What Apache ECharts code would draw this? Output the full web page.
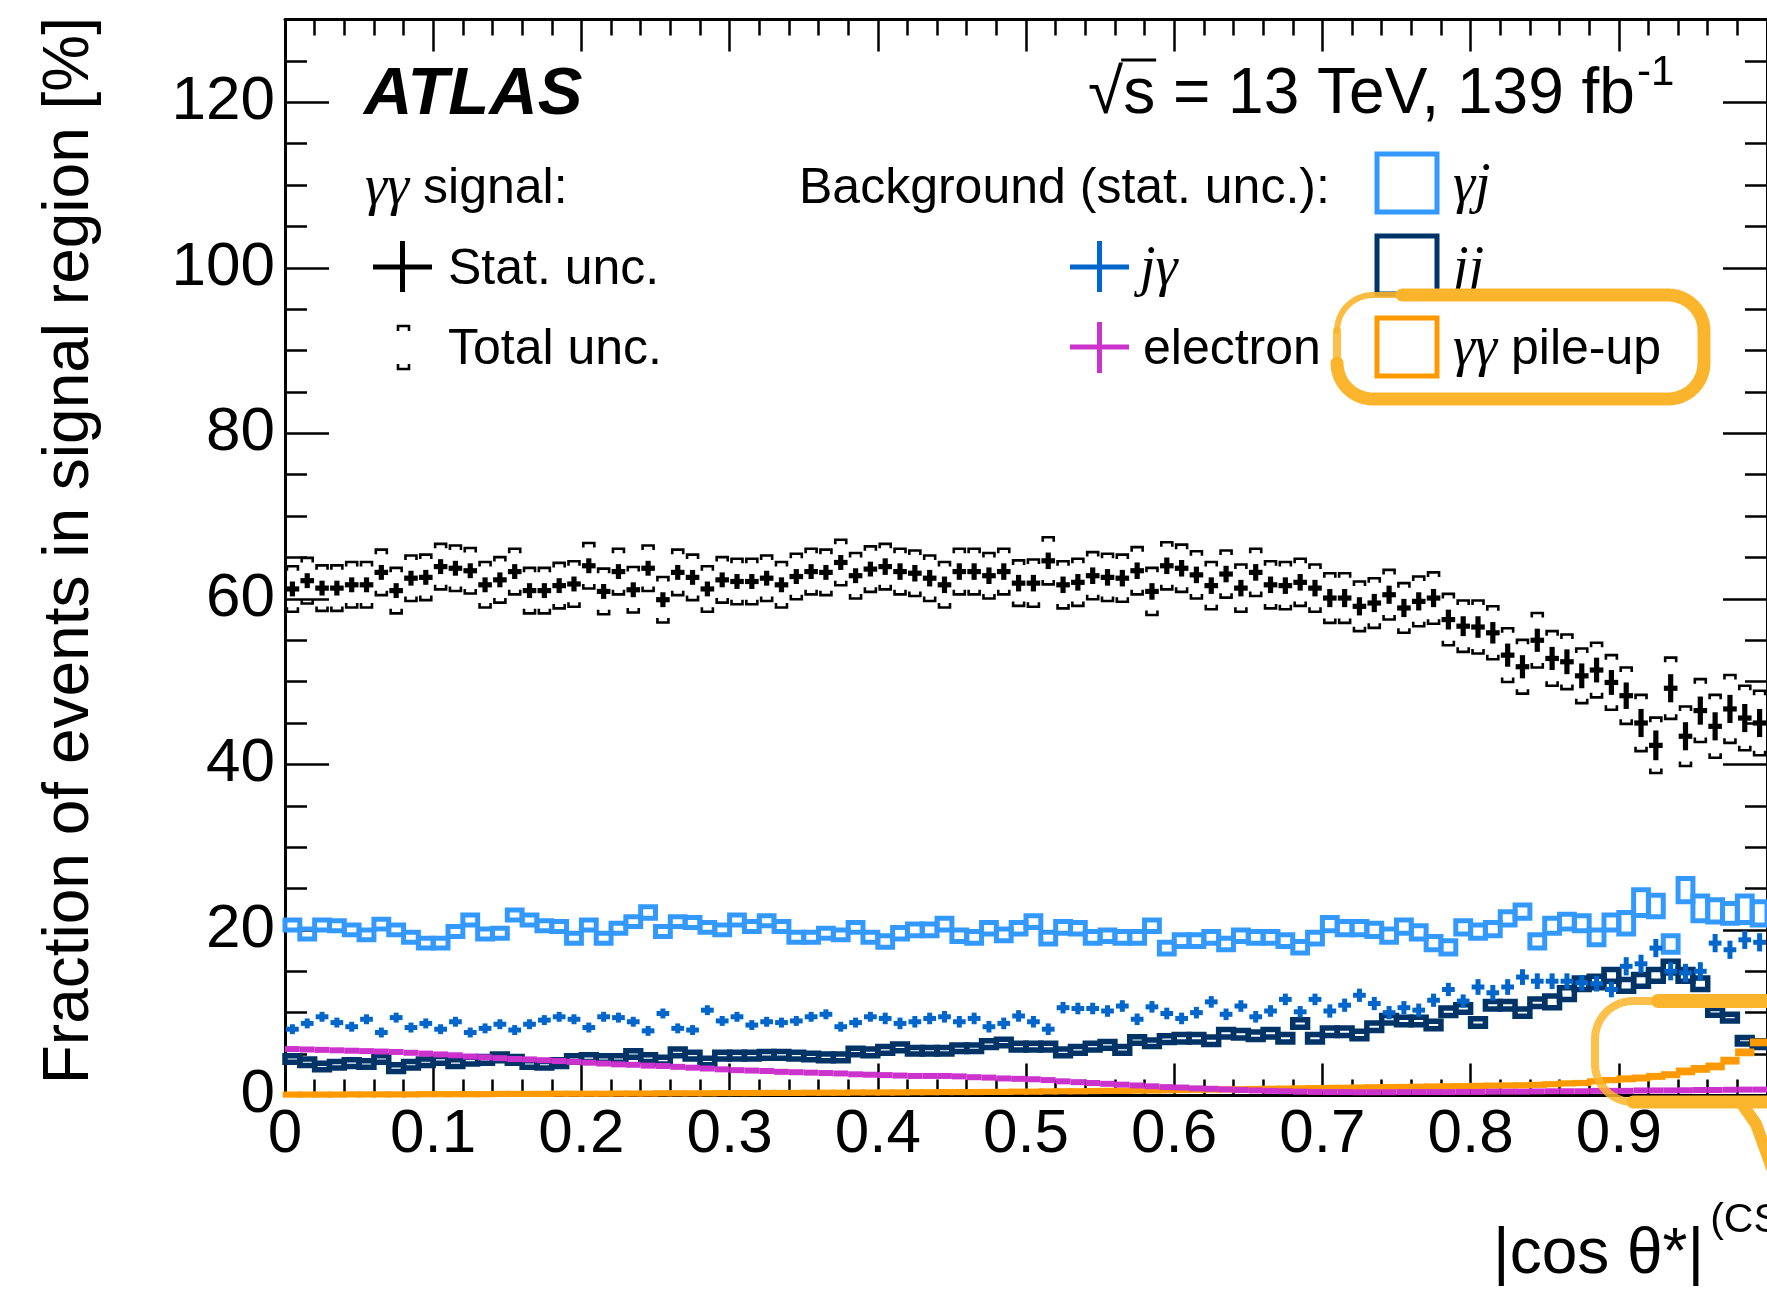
<!DOCTYPE html>
<html><head><meta charset="utf-8">
<script src="https://cdn.jsdelivr.net/npm/echarts@6/dist/echarts.min.js"></script>
<style>html,body{margin:0;padding:0;background:#fff}#c{width:1767px;height:1289px}</style>
</head><body><div id="c"></div><script>
// ---------------- data ----------------
const binWidth = 0.01;
const binCenters = Array.from({length: 100}, (_, i) => (2 * i + 1) / 200);

const signal = [61.2,62.2,61.3,61.3,61.7,61.7,63.2,61.0,62.5,62.6,
 63.9,63.7,63.4,61.7,62.3,63.3,61.0,61.0,61.6,61.8,
 64.0,60.9,63.3,61.1,63.7,59.9,63.2,62.6,61.2,62.3,
 62.1,62.1,62.5,61.7,62.7,63.3,63.2,64.4,62.8,63.6,
 63.9,63.3,63.1,62.5,61.7,63.3,63.3,62.8,63.3,61.9,
 61.9,64.6,61.7,62.0,62.8,62.6,62.5,63.4,60.9,64.0,
 63.7,62.9,61.6,63.0,61.3,63.2,61.7,61.6,62.0,61.3,
 60.1,60.1,59.1,59.5,60.5,58.9,59.7,60.1,57.5,56.7,
 56.6,55.9,53.2,51.8,55.0,52.8,52.4,50.7,51.4,49.9,
 48.3,45.0,42.3,49.2,43.4,46.5,44.6,46.7,45.6,45.0];
const signalStat = [0.9,0.9,0.9,0.9,0.9,0.9,0.9,0.9,0.9,0.9,
 0.9,0.9,0.9,0.9,0.9,0.9,0.9,0.9,0.9,0.9,
 0.9,0.9,0.9,0.9,0.9,0.9,0.9,0.9,0.9,0.9,
 0.9,0.9,0.9,0.9,0.9,0.9,0.9,0.9,0.9,0.9,
 1.0,1.0,1.0,1.0,1.0,1.0,1.0,1.0,1.0,1.0,
 1.0,1.0,1.0,1.0,1.0,1.0,1.0,1.0,1.0,1.0,
 1.0,1.0,1.0,1.0,1.0,1.0,1.0,1.0,1.0,1.0,
 1.1,1.1,1.1,1.1,1.1,1.1,1.1,1.1,1.2,1.2,
 1.3,1.3,1.4,1.4,1.4,1.4,1.5,1.5,1.5,1.5,
 1.6,1.7,1.8,1.7,1.7,1.7,1.7,1.7,1.7,1.7];
const signalTotal = [2.75,2.75,2.75,2.75,2.75,2.75,2.75,2.75,2.75,2.75,
 2.75,2.75,2.75,2.75,2.75,2.75,2.75,2.75,2.75,2.75,
 2.75,2.75,2.75,2.75,2.75,2.75,2.75,2.75,2.75,2.75,
 2.75,2.75,2.75,2.75,2.75,2.75,2.75,2.75,2.75,2.75,
 2.75,2.75,2.75,2.75,2.75,2.75,2.75,2.75,2.75,2.75,
 2.85,2.85,2.85,2.85,2.85,2.85,2.85,2.85,2.85,2.85,
 2.85,2.85,2.85,2.85,2.85,2.85,2.85,2.85,2.85,2.85,
 3.0,3.0,3.0,3.0,3.0,3.0,3.0,3.1,3.1,3.1,
 3.2,3.2,3.25,3.25,3.3,3.3,3.3,3.3,3.3,3.3,
 3.4,3.4,3.35,3.7,3.6,3.8,3.8,4.1,3.9,3.9];

const gjValues = [20.6,19.5,20.6,20.5,20.0,19.4,20.7,20.0,19.1,18.4,
 18.4,19.8,21.2,19.5,19.6,21.8,21.2,20.5,20.4,19.0,
 20.6,19.0,20.2,21.0,22.1,19.8,21.0,20.9,20.3,20.0,
 21.2,20.4,21.1,20.4,19.1,19.1,19.6,19.4,20.3,19.1,
 18.6,19.6,20.0,20.0,20.7,19.3,19.1,20.2,19.4,20.2,
 21.0,19.0,20.3,20.2,19.1,19.3,19.1,19.1,20.5,17.8,
 18.7,18.7,19.1,18.3,19.3,19.1,19.1,18.7,17.9,19.0,
 20.7,20.2,20.2,20.0,19.3,20.4,19.7,18.4,17.9,20.3,
 19.8,20.1,21.4,22.2,18.6,20.5,21.0,20.8,19.1,20.9,
 20.8,23.3,22.9,18.3,24.8,22.6,22.3,22.0,22.5,22.0];
const gjErr = [0.6,0.6,0.6,0.6,0.6,0.6,0.6,0.6,0.6,0.6,
 0.6,0.6,0.6,0.6,0.6,0.6,0.6,0.6,0.6,0.6,
 0.6,0.6,0.6,0.6,0.7,0.6,0.6,0.6,0.6,0.6,
 0.6,0.6,0.6,0.6,0.6,0.6,0.6,0.6,0.6,0.6,
 0.7,0.7,0.7,0.7,0.7,0.7,0.7,0.7,0.7,0.7,
 0.7,0.7,0.7,0.7,0.7,0.7,0.7,0.7,0.7,0.7,
 0.7,0.7,0.7,0.7,0.7,0.7,0.7,0.7,0.7,0.7,
 0.8,0.8,0.8,0.8,0.8,0.8,0.8,0.8,0.8,0.8,
 0.8,0.8,0.8,0.8,0.8,0.9,0.9,0.9,0.9,0.9,
 1.3,1.55,1.3,1.0,1.4,1.5,1.35,1.2,1.6,1.4];

const jjValues = [4.4,4.0,3.5,3.7,3.9,3.8,4.4,3.3,3.7,4.0,
 4.3,3.9,4.2,4.3,4.6,4.3,3.8,3.7,3.9,4.4,
 4.5,4.4,4.4,5.0,4.5,4.2,5.2,4.8,4.1,4.8,
 4.8,4.8,4.9,4.9,4.8,4.7,4.6,4.6,5.3,5.2,
 5.5,5.8,5.4,5.4,5.4,5.7,5.7,6.2,6.4,5.9,
 5.9,5.9,5.2,5.5,5.9,6.1,5.5,6.7,6.3,6.8,
 6.9,6.9,6.6,7.5,7.4,7.2,7.5,6.9,8.7,6.9,
 7.7,7.7,7.3,8.3,9.2,9.0,9.0,8.5,10.1,10.5,
 8.8,10.9,10.9,10.0,11.2,11.3,12.3,13.5,13.7,14.5,
 13.3,13.9,14.5,15.5,14.5,13.5,10.1,9.4,6.6,6.2];
const jjErr = [0.4,0.4,0.4,0.4,0.4,0.4,0.4,0.4,0.4,0.4,
 0.4,0.4,0.4,0.4,0.4,0.4,0.4,0.4,0.4,0.4,
 0.4,0.4,0.4,0.4,0.4,0.4,0.4,0.4,0.4,0.4,
 0.4,0.4,0.4,0.4,0.4,0.4,0.4,0.4,0.4,0.4,
 0.4,0.4,0.4,0.4,0.4,0.4,0.4,0.4,0.4,0.4,
 0.4,0.4,0.4,0.4,0.4,0.4,0.4,0.4,0.4,0.4,
 0.45,0.45,0.45,0.45,0.45,0.45,0.45,0.45,0.45,0.45,
 0.45,0.45,0.45,0.45,0.45,0.45,0.45,0.45,0.45,0.45,
 0.45,0.45,0.45,0.45,0.45,0.7,0.7,0.7,0.7,0.7,
 0.7,0.7,0.7,0.7,0.7,0.7,0.4,0.4,0.4,0.4];

const jgValues = [8.0,8.7,9.5,8.8,8.3,9.2,7.6,9.4,8.2,8.7,
 8.0,8.9,7.6,8.1,8.6,7.9,8.6,9.1,9.5,9.2,
 8.2,9.5,9.4,8.9,7.8,9.9,8.1,7.9,10.3,9.0,
 9.5,8.5,8.9,8.8,9.0,9.5,9.8,8.3,8.8,9.5,
 9.3,8.7,8.9,9.3,9.5,8.9,9.3,8.3,8.7,9.6,
 8.9,8.0,10.6,10.5,10.5,10.2,10.8,9.2,10.7,9.9,
 9.3,10.0,11.3,9.8,10.8,9.5,10.2,11.6,10.1,11.6,
 10.2,10.9,12.1,11.1,10.0,10.6,10.3,11.5,12.8,11.4,
 13.1,12.4,13.1,14.3,13.8,13.8,13.8,13.6,13.5,12.8,
 15.6,15.9,17.8,15.0,14.8,15.0,18.4,17.6,18.8,18.5];
const jgErr = [0.6,0.6,0.6,0.6,0.6,0.6,0.6,0.6,0.6,0.6,
 0.6,0.6,0.6,0.6,0.6,0.6,0.6,0.6,0.6,0.6,
 0.6,0.6,0.6,0.6,0.6,0.6,0.6,0.6,0.6,0.6,
 0.6,0.6,0.6,0.6,0.6,0.6,0.6,0.6,0.6,0.6,
 0.7,0.7,0.7,0.7,0.7,0.7,0.7,0.7,0.7,0.7,
 0.7,0.7,0.7,0.7,0.7,0.7,0.7,0.7,0.7,0.7,
 0.7,0.7,0.7,0.7,0.7,0.7,0.7,0.7,0.7,0.7,
 0.8,0.8,0.8,0.8,0.8,0.8,0.8,0.8,0.8,0.8,
 0.95,0.95,0.95,0.95,0.95,0.95,0.95,0.95,0.95,0.95,
 1.1,1.1,1.1,1.1,1.1,1.1,1.1,1.1,1.1,1.1];

const electronValues = [5.6,5.55,5.5,5.45,5.4,5.35,5.3,5.25,5.15,5.05,
 4.95,4.85,4.7,4.6,4.5,4.4,4.35,4.25,4.15,4.05,
 3.95,3.85,3.75,3.7,3.6,3.55,3.45,3.35,3.25,3.15,
 3.05,3.0,2.95,2.85,2.8,2.75,2.7,2.65,2.55,2.5,
 2.45,2.4,2.35,2.35,2.35,2.3,2.2,2.15,2.05,2.0,
 1.95,1.85,1.7,1.6,1.5,1.4,1.3,1.2,1.1,1.0,
 0.95,0.85,0.8,0.72,0.65,0.6,0.55,0.5,0.45,0.42,
 0.4,0.4,0.38,0.38,0.38,0.4,0.4,0.4,0.4,0.42,
 0.42,0.45,0.45,0.45,0.48,0.5,0.5,0.5,0.55,0.55,
 0.55,0.6,0.6,0.6,0.62,0.65,0.65,0.68,0.7,0.7];
const electronErr = [0.08,0.08,0.08,0.08,0.08,0.08,0.08,0.08,0.08,0.08,
 0.08,0.08,0.08,0.08,0.08,0.08,0.08,0.08,0.08,0.08,
 0.08,0.08,0.08,0.08,0.08,0.08,0.08,0.08,0.08,0.08,
 0.08,0.08,0.08,0.08,0.08,0.08,0.08,0.08,0.08,0.08,
 0.08,0.08,0.08,0.08,0.08,0.08,0.08,0.08,0.08,0.08,
 0.08,0.08,0.08,0.08,0.08,0.08,0.08,0.08,0.08,0.08,
 0.08,0.08,0.08,0.08,0.08,0.08,0.08,0.08,0.08,0.08,
 0.08,0.08,0.08,0.08,0.08,0.08,0.08,0.08,0.08,0.08,
 0.08,0.08,0.08,0.08,0.08,0.08,0.08,0.08,0.08,0.08,
 0.1,0.1,0.1,0.1,0.1,0.1,0.1,0.1,0.1,0.1];

const pileupValues = [0.1,0.1,0.1,0.1,0.12,0.12,0.12,0.12,0.12,0.15,
 0.15,0.15,0.15,0.15,0.18,0.18,0.18,0.18,0.2,0.2,
 0.2,0.2,0.22,0.22,0.22,0.25,0.25,0.25,0.25,0.28,
 0.28,0.28,0.3,0.3,0.3,0.32,0.32,0.32,0.35,0.35,
 0.35,0.35,0.38,0.38,0.4,0.4,0.4,0.42,0.42,0.45,
 0.45,0.48,0.5,0.5,0.52,0.55,0.55,0.58,0.6,0.62,
 0.65,0.68,0.7,0.72,0.75,0.78,0.8,0.82,0.85,0.88,
 0.9,0.92,0.95,0.98,1.0,1.02,1.05,1.08,1.1,1.12,
 1.15,1.18,1.2,1.22,1.28,1.35,1.45,1.5,1.7,1.85,
 2.0,2.1,2.3,2.5,2.9,3.2,3.5,4.2,5.2,6.4];
const pileupErr = [0.1,0.1,0.1,0.1,0.1,0.1,0.1,0.1,0.1,0.1,
 0.1,0.1,0.1,0.1,0.1,0.1,0.1,0.1,0.1,0.1,
 0.1,0.1,0.1,0.1,0.1,0.1,0.1,0.1,0.1,0.1,
 0.1,0.1,0.1,0.1,0.1,0.1,0.1,0.1,0.1,0.1,
 0.1,0.1,0.1,0.1,0.1,0.1,0.1,0.1,0.1,0.1,
 0.1,0.1,0.1,0.1,0.1,0.1,0.1,0.1,0.1,0.1,
 0.1,0.1,0.1,0.1,0.1,0.1,0.1,0.1,0.1,0.1,
 0.1,0.1,0.1,0.1,0.1,0.1,0.1,0.1,0.1,0.1,
 0.1,0.1,0.1,0.1,0.1,0.1,0.1,0.1,0.1,0.1,
 0.15,0.15,0.15,0.15,0.2,0.2,0.2,0.2,0.2,0.2];

const xTickLabels = ['0','0.1','0.2','0.3','0.4','0.5','0.6','0.7','0.8','0.9','1'];
const yTickLabels = ['0','20','40','60','80','100','120'];

// ---------------- style ----------------
const FONT = '"Liberation Sans", Arial, Helvetica, sans-serif';
const SERIF = '"Liberation Serif", "Times New Roman", serif';
const C_GJ = '#3399FF', C_JJ = '#003366', C_JG = '#0066CC', C_EL = '#CC33CC', C_PU = '#FF9900';
const C_ANN = '#FBB52C';
const BASE = 0.29; // baseline offset of a middle-aligned line, in em

const mctx = document.createElement('canvas').getContext('2d');
function tw(text, size, family, weight, style) {
  mctx.font = (style || 'normal') + ' ' + (weight || 'normal') + ' ' + size + 'px ' + family;
  return mctx.measureText(text).width;
}

function crossItem(color, lw, hwFrac) {
  return function (params, api) {
    const x = api.value(0), y = api.value(1), e = api.value(2);
    const hw = binWidth * hwFrac;
    const a = api.coord([x - hw, y]), b = api.coord([x + hw, y]);
    const t = api.coord([x, y + e]), d = api.coord([x, y - e]);
    return {type: 'group', children: [
      {type: 'line', shape: {x1: a[0], y1: a[1], x2: b[0], y2: b[1]}, style: {stroke: color, lineWidth: lw}},
      {type: 'line', shape: {x1: t[0], y1: t[1], x2: d[0], y2: d[1]}, style: {stroke: color, lineWidth: lw}}
    ]};
  };
}
function boxItem(color, lw) {
  return function (params, api) {
    const x = api.value(0), y = api.value(1), e = api.value(2);
    const p0 = api.coord([x - binWidth / 2, y + e]);
    const p1 = api.coord([x + binWidth / 2, y - e]);
    return {type: 'rect', shape: {x: p0[0], y: p0[1], width: p1[0] - p0[0], height: p1[1] - p0[1]},
      style: {stroke: color, lineWidth: lw, fill: 'none'}};
  };
}
function signalItem(params, api) {
  const x = api.value(0), y = api.value(1), s = api.value(2), t = api.value(3);
  const hw = binWidth * 0.46;
  const a = api.coord([x - hw, y]), b = api.coord([x + hw, y]);
  const pt = api.coord([x, y + s]), pb = api.coord([x, y - s]);
  const pu = api.coord([x, y + t]), pd = api.coord([x, y - t]);
  const bw = 5.5, leg = 4.5;
  const st = {stroke: '#000', lineWidth: 5.2};
  const sb = {stroke: '#000', lineWidth: 2.6, fill: 'none'};
  return {type: 'group', children: [
    {type: 'line', shape: {x1: a[0], y1: a[1], x2: b[0], y2: b[1]}, style: st},
    {type: 'line', shape: {x1: pt[0], y1: pt[1], x2: pb[0], y2: pb[1]}, style: st},
    {type: 'polyline', shape: {points: [[pu[0] - bw, pu[1] + leg], [pu[0] - bw, pu[1]], [pu[0] + bw, pu[1]], [pu[0] + bw, pu[1] + leg]]}, style: sb},
    {type: 'polyline', shape: {points: [[pd[0] - bw, pd[1] - leg], [pd[0] - bw, pd[1]], [pd[0] + bw, pd[1]], [pd[0] + bw, pd[1] - leg]]}, style: sb}
  ]};
}

function triples(vals, errs) { return binCenters.map((x, i) => [x, vals[i], errs[i]]); }

const axisLineStyle = {color: '#000', width: 3};
const tickStyle = {color: '#000', width: 2.5};

function yAxisDef(pos, major) {
  return {
    type: 'value', min: 0, max: 130, interval: major ? 20 : 5, position: pos,
    axisLine: {show: major, onZero: false, lineStyle: axisLineStyle},
    axisTick: {show: true, inside: true, length: major ? 44 : 22, lineStyle: tickStyle},
    minorTick: {show: false}, splitLine: {show: false},
    axisLabel: {show: major && pos === 'left', margin: 10, fontSize: 62, fontFamily: FONT, color: '#000',
      showMaxLabel: false, formatter: v => (v % 20 === 0 && yTickLabels[v / 20] !== undefined ? yTickLabels[v / 20] : '')}
  };
}
function xAxisDef(pos) {
  return {
    type: 'value', min: 0, max: 1, interval: 0.1, position: pos,
    axisLine: {show: true, onZero: false, lineStyle: axisLineStyle},
    axisTick: {show: true, inside: true, length: 32, lineStyle: tickStyle},
    minorTick: {show: true, splitNumber: 5, length: 16, lineStyle: tickStyle},
    splitLine: {show: false}, minorSplitLine: {show: false},
    axisLabel: {show: pos === 'bottom', margin: 9, fontSize: 62, fontFamily: FONT, color: '#000',
      showMaxLabel: false, formatter: v => xTickLabels[Math.round(v * 10)]}
  };
}

// ---------------- texts / legend (graphic) ----------------
const G = [];
function txt(x, y, text, size, opts) {
  opts = opts || {};
  G.push({type: 'text', x: x, y: y, z: 100, rotation: opts.rotation || 0,
    style: Object.assign({text: text, fontSize: size, fontFamily: FONT, fill: '#000', align: 'left', verticalAlign: 'middle'}, opts.style || {})});
}
const RICH_I = {i: {fontFamily: SERIF, fontStyle: 'italic', fontSize: 52}, g: {fontFamily: SERIF, fontStyle: 'italic', fontSize: 56}};

// ATLAS
txt(364, 115 - BASE * 67, 'ATLAS', 67, {style: {fontWeight: 'bold', fontStyle: 'italic'}});
// sqrt(s) line
const sx = 1088;
const mainLumi = '\u221As = 13 TeV, 139 fb';
txt(sx, 114 - BASE * 64, mainLumi, 64);
const wRad = tw('\u221A', 64, FONT), wS = tw('s', 64, FONT), wLumi = tw(mainLumi, 64, FONT);
G.push({type: 'line', z: 100, shape: {x1: sx + wRad - 2, y1: 60, x2: sx + wRad + wS + 1, y2: 60}, style: {stroke: '#000', lineWidth: 3}});
txt(sx + wLumi + 2, 86 - BASE * 42, '-1', 42);

// legend headers
txt(365, 204 - BASE * 50, '{g|\u03B3\u03B3} signal:', 50, {style: {rich: RICH_I}});
txt(799, 204 - BASE * 50, 'Background (stat. unc.):', 50);

// Stat unc
G.push({type: 'line', z: 100, shape: {x1: 373, y1: 267, x2: 432, y2: 267}, style: {stroke: '#000', lineWidth: 5}});
G.push({type: 'line', z: 100, shape: {x1: 402.5, y1: 241, x2: 402.5, y2: 292}, style: {stroke: '#000', lineWidth: 5}});
txt(448, 270, 'Stat. unc.', 50);
// Total unc
G.push({type: 'polyline', z: 100, shape: {points: [[398, 331], [398, 326], [409, 326], [409, 331]]}, style: {stroke: '#000', lineWidth: 2.6, fill: 'none'}});
G.push({type: 'polyline', z: 100, shape: {points: [[398, 364], [398, 369], [409, 369], [409, 364]]}, style: {stroke: '#000', lineWidth: 2.6, fill: 'none'}});
txt(448, 350, 'Total unc.', 50);
// j gamma
G.push({type: 'line', z: 100, shape: {x1: 1070, y1: 267, x2: 1129, y2: 267}, style: {stroke: C_JG, lineWidth: 5}});
G.push({type: 'line', z: 100, shape: {x1: 1099.5, y1: 241, x2: 1099.5, y2: 292}, style: {stroke: C_JG, lineWidth: 5}});
txt(1140, 270, '{g|j\u03B3}', 50, {style: {rich: RICH_I}});
// electron
G.push({type: 'line', z: 100, shape: {x1: 1070, y1: 347, x2: 1129, y2: 347}, style: {stroke: C_EL, lineWidth: 5}});
G.push({type: 'line', z: 100, shape: {x1: 1099.5, y1: 322, x2: 1099.5, y2: 373}, style: {stroke: C_EL, lineWidth: 5}});
txt(1143, 350, 'electron', 50);
// boxes
G.push({type: 'rect', z: 100, shape: {x: 1377, y: 154, width: 60, height: 58}, style: {stroke: C_GJ, lineWidth: 5, fill: 'none'}});
txt(1453, 187, '{g|\u03B3j}', 50, {style: {rich: RICH_I}});
G.push({type: 'rect', z: 100, shape: {x: 1377, y: 236, width: 60, height: 58}, style: {stroke: C_JJ, lineWidth: 5, fill: 'none'}});
txt(1453, 270, '{g|jj}', 50, {style: {rich: RICH_I}});
G.push({type: 'rect', z: 100, shape: {x: 1377, y: 318, width: 60, height: 58}, style: {stroke: C_PU, lineWidth: 5, fill: 'none'}});
txt(1453, 350, '{g|\u03B3\u03B3} pile-up', 50, {style: {rich: RICH_I}});

// axis titles
txt(70, 17, 'Fraction of events in signal region [%]', 64, {rotation: Math.PI / 2, style: {align: 'right'}});
const xTitle = '|cos \u03B8*|';
txt(1493, 1274 - BASE * 64, xTitle, 64);
txt(1493 + tw(xTitle, 64, FONT) + 6, 1233 - BASE * 41, '(CS)', 41);

// ---------------- hand-drawn highlight annotations ----------------
function arcPts(cx, cy, r, a0, a1, n) {
  const out = [];
  for (let k = 0; k <= n; k++) {
    const a = (a0 + (a1 - a0) * k / n) * Math.PI / 180;
    out.push([cx + r * Math.cos(a), cy + r * Math.sin(a)]);
  }
  return out;
}
function annot(points, lw, opacity) {
  G.push({type: 'polyline', z: 200, shape: {points: points},
    style: {stroke: C_ANN, lineWidth: lw, fill: 'none', lineCap: 'round', lineJoin: 'round', opacity: opacity || 1}});
}
// around the "pile-up" legend entry
(function () {
  const L = 1337, R = 1704, T = 295, B = 399, r = 36;
  annot([[1402, T]].concat(arcPts(R - r, T + r, r, -90, 0, 12), arcPts(R - r, B - r, r, 0, 90, 12),
    arcPts(L + r, B - r, r, 90, 180, 12)), 13);
  annot(arcPts(L + r, T + r, r, 180, 270, 12).concat([[1402, T]]), 6, 0.9);
  annot([[L, B - r], [L, T + r]], 8, 0.85);
})();
// around the high-|cos| pile-up rise
(function () {
  const L = 1595, T = 1001, B = 1102, r = 38;
  annot([[1658, T], [1800, T]], 14);
  annot([[1800, B], [L + r, B]], 13);
  annot(arcPts(L + r, B - r, r, 90, 180, 12).concat(arcPts(L + r, T + r, r, 180, 270, 12), [[1658, T]]), 8, 0.85);
  annot([[1742, 1104], [1756, 1124], [1772, 1168]], 12);
})();

// ---------------- chart ----------------
const chart = echarts.init(document.getElementById('c'), null, {renderer: 'canvas', width: 1767, height: 1289});
chart.setOption({
  animation: false,
  backgroundColor: '#ffffff',
  grid: {left: 285, top: 19.6, width: 1495, height: 1075.8, containLabel: false},
  xAxis: [xAxisDef('bottom'), xAxisDef('top')],
  yAxis: [yAxisDef('left', true), yAxisDef('right', true), yAxisDef('left', false), yAxisDef('right', false)],
  series: [
    {type: 'custom', name: 'gj', renderItem: boxItem(C_GJ, 5), data: triples(gjValues, gjErr), encode: {x: 0, y: 1}, z: 2},
    {type: 'custom', name: 'jj', renderItem: boxItem(C_JJ, 5.5), data: triples(jjValues, jjErr), encode: {x: 0, y: 1}, z: 3},
    {type: 'custom', name: 'pileup', renderItem: boxItem(C_PU, 4.5), data: triples(pileupValues, pileupErr), encode: {x: 0, y: 1}, z: 3},
    {type: 'custom', name: 'electron', renderItem: crossItem(C_EL, 6, 0.5), data: triples(electronValues, electronErr), encode: {x: 0, y: 1}, z: 4},
    {type: 'custom', name: 'jg', renderItem: crossItem(C_JG, 5, 0.43), data: triples(jgValues, jgErr), encode: {x: 0, y: 1}, z: 5},
    {type: 'custom', name: 'signal', renderItem: signalItem,
      data: binCenters.map((x, i) => [x, signal[i], signalStat[i], signalTotal[i]]), encode: {x: 0, y: 1}, z: 6}
  ],
  graphic: G
});
</script></body></html>
